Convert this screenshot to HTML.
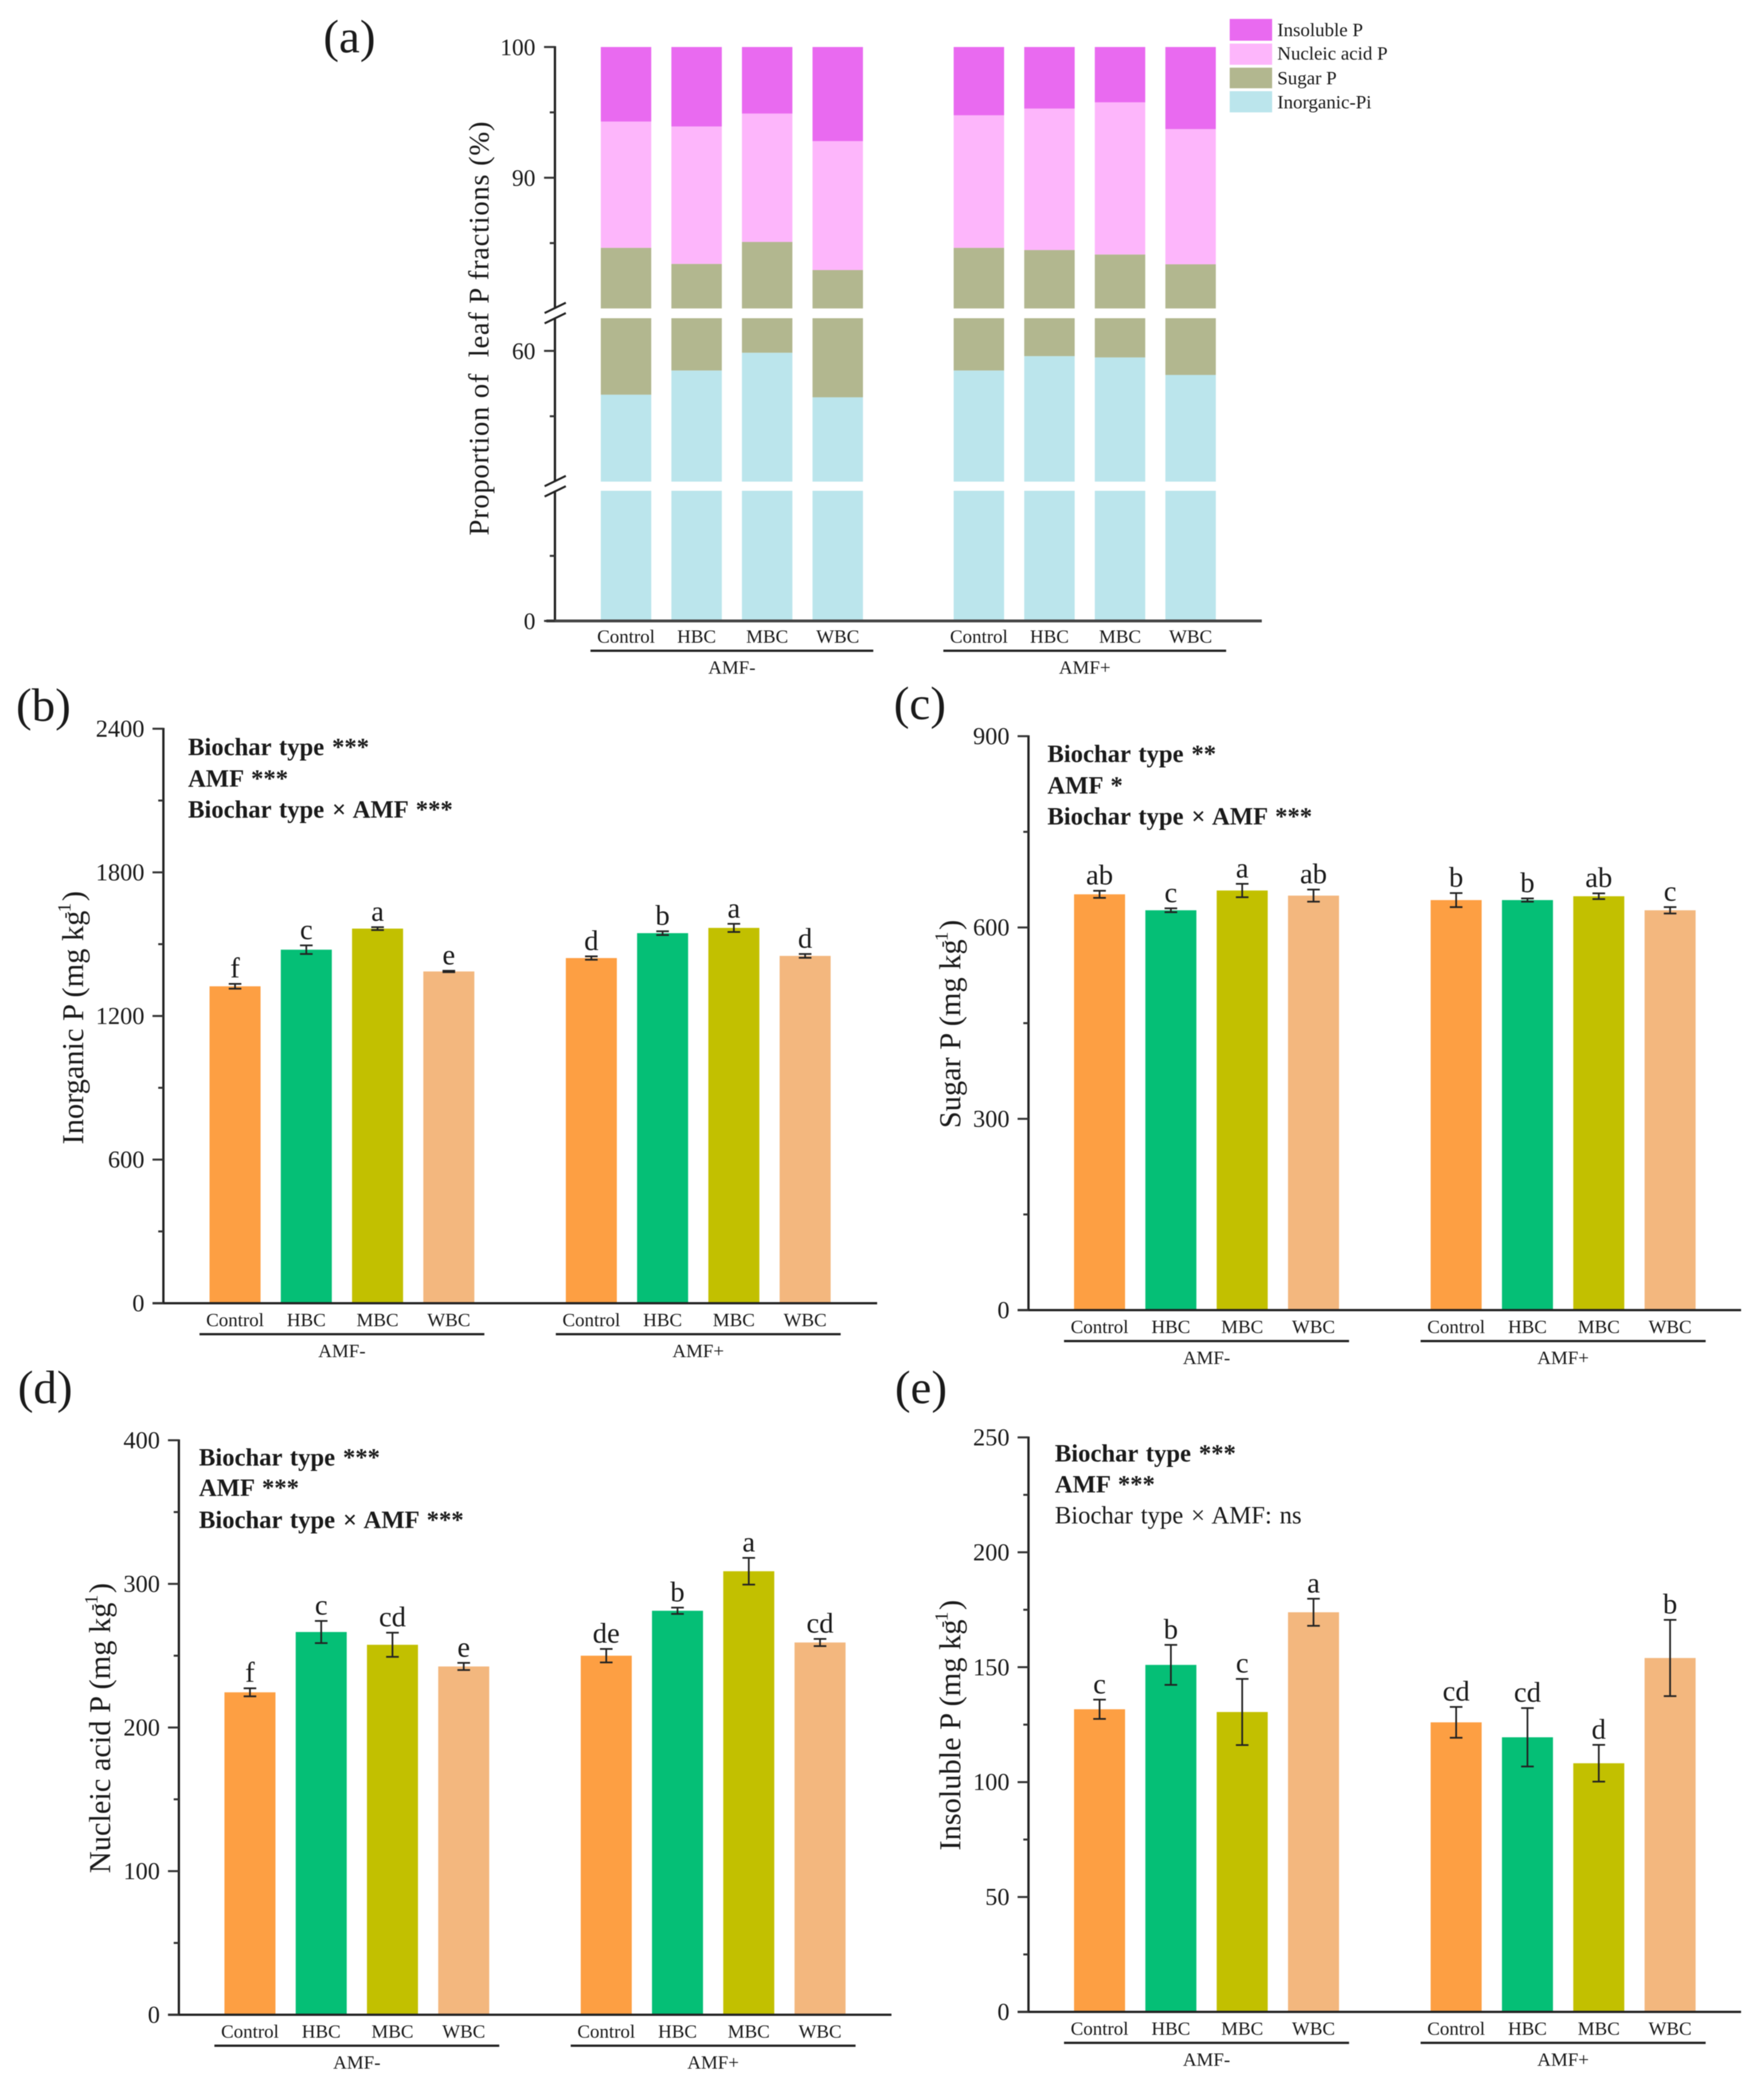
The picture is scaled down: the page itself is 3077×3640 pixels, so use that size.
<!DOCTYPE html>
<html lang="en">
<head>
<meta charset="utf-8">
<title>Leaf P fractions under biochar and AMF treatments</title>
<style>
html,body{margin:0;padding:0;background:#fff;}
svg{display:block;font-family:"Liberation Serif",serif;filter:blur(0.8px);}
text{fill:#1a1a1a;white-space:pre;}
.note{font-size:43px;word-spacing:3px;}
.bold{font-weight:bold;}
.title{font-size:53px;}
.plabel{font-size:82px;}
</style>
</head>
<body>
<svg id="figure" xmlns="http://www.w3.org/2000/svg" width="3077" height="3640" viewBox="0 0 3077 3640">
<rect x="0" y="0" width="3077" height="3640" fill="#fff"/>
<text class="plabel" x="564" y="91">(a)</text>
<text class="plabel" x="28" y="1257">(b)</text>
<text class="plabel" x="1559" y="1254">(c)</text>
<text class="plabel" x="31" y="2447">(d)</text>
<text class="plabel" x="1561" y="2447">(e)</text>

<text font-size="50" textLength="722" transform="translate(852 573) rotate(-90)" text-anchor="middle">Proportion of  leaf P fractions (%)</text>
<text class="title" transform="translate(145 1775) rotate(-90)" text-anchor="middle">Inorganic P (mg kg<tspan dx="-14" dy="-22" font-size="33">-1</tspan><tspan dx="3" dy="22">)</tspan></text>
<text class="title" transform="translate(1675 1786) rotate(-90)" text-anchor="middle">Sugar P (mg kg<tspan dx="-14" dy="-22" font-size="33">-1</tspan><tspan dx="3" dy="22">)</tspan></text>
<text class="title" transform="translate(192 3014) rotate(-90)" text-anchor="middle">Nucleic acid P (mg kg<tspan dx="-14" dy="-22" font-size="33">-1</tspan><tspan dx="3" dy="22">)</tspan></text>
<text class="title" transform="translate(1675 3009) rotate(-90)" text-anchor="middle">Insoluble P (mg kg<tspan dx="-14" dy="-22" font-size="33">-1</tspan><tspan dx="3" dy="22">)</tspan></text>

<g>
<text class="note bold" x="328" y="1317">Biochar type ***</text>
<text class="note bold" x="328" y="1372">AMF ***</text>
<text class="note bold" x="328" y="1426">Biochar type × AMF ***</text>
</g>
<g>
<text class="note bold" x="1827" y="1329">Biochar type **</text>
<text class="note bold" x="1827" y="1384">AMF *</text>
<text class="note bold" x="1827" y="1438">Biochar type × AMF ***</text>
</g>
<g>
<text class="note bold" x="347" y="2556">Biochar type ***</text>
<text class="note bold" x="347" y="2609">AMF ***</text>
<text class="note bold" x="347" y="2665">Biochar type × AMF ***</text>
</g>
<g>
<text class="note bold" x="1840" y="2549">Biochar type ***</text>
<text class="note bold" x="1840" y="2603">AMF ***</text>
<text class="note" x="1840" y="2657">Biochar type × AMF: ns</text>
</g>

<g>
<rect x="2145" y="33" width="74" height="38" fill="#E96AF0"/>
<rect x="2145" y="76" width="74" height="37" fill="#FDB6FB"/>
<rect x="2145" y="118" width="74" height="36" fill="#B2B78F"/>
<rect x="2145" y="159" width="74" height="37" fill="#BBE5EC"/>
<text font-size="33" x="2228" y="63">Insoluble P</text>
<text font-size="33" x="2228" y="104">Nucleic acid P</text>
<text font-size="33" x="2228" y="147">Sugar P</text>
<text font-size="33" x="2228" y="189">Inorganic-Pi</text>
</g>
</svg>

<script>
// ---------- shared categories ----------
const categories = ['Control','HBC','MBC','WBC','Control','HBC','MBC','WBC'];
const groupLabels = ['AMF-','AMF+'];

// ---------- panel (a) stacked percentages ----------
const stackInorganic = [56.65,58.5,59.86,56.45,58.5,59.6,59.5,58.16];
const stackSugar = [27.99,24.91,25.23,26.49,26.14,24.87,24.63,25.22];
const stackNucleic = [9.66,10.51,9.82,9.86,10.14,10.82,11.64,10.34];
const stackInsoluble = [5.7,6.08,5.09,7.2,5.22,4.71,4.23,6.28];
const stackMajorTicks = [0,60,90,100];
const stackMinorTicks = [5,55,85,95];

// ---------- panel (b) inorganic P ----------
const inorganicValues = [1324,1477,1565,1386,1442,1546,1568,1451];
const inorganicErrors = [10,18,6,3,7,8,17,8];
const inorganicLetters = ['f','c','a','e','d','b','a','d'];
const inorganicTicks = [0,600,1200,1800,2400];

// ---------- panel (c) sugar P ----------
const sugarValues = [652,627,658,650,643,643,649,627];
const sugarErrors = [5.6,3,10.5,9.5,11,2.5,4.5,5];
const sugarLetters = ['ab','c','a','ab','b','b','ab','c'];
const sugarTicks = [0,300,600,900];

// ---------- panel (d) nucleic acid P ----------
const nucleicValues = [224.5,266.5,257.6,242.5,250,281.3,308.8,259.2];
const nucleicErrors = [2.8,7.7,8.4,2.5,4.7,2.2,9.3,2.5];
const nucleicLetters = ['f','c','cd','e','de','b','a','cd'];
const nucleicTicks = [0,100,200,300,400];

// ---------- panel (e) insoluble P ----------
const insolubleValues = [131.7,151,130.5,173.9,126,119.5,108.2,154];
const insolubleErrors = [4.2,8.7,14.4,5.9,6.7,12.7,8,16.6];
const insolubleLetters = ['c','b','c','a','cd','cd','d','b'];
const insolubleTicks = [0,50,100,150,200,250];

const barColors = ['#FD9F43','#05BF76','#C2C000','#F3B77E'];
const INK = '#222';
const NS = 'http://www.w3.org/2000/svg';
const figure = document.getElementById('figure');

function mk(tag, attrs, parent, txt){
  const el = document.createElementNS(NS, tag);
  for (const k in attrs) el.setAttribute(k, attrs[k]);
  if (txt !== undefined) el.textContent = txt;
  parent.appendChild(el);
  return el;
}
// slots 0-3 = AMF-, slot 4 empty, slots 5-8 = AMF+
function slot(i){ return i < 4 ? i : i + 1; }

function drawCategoryAxis(g, xOf, axisY, fontSize){
  categories.forEach(function(c, i){
    const t = mk('text', {x: xOf(i), y: axisY + 40, 'text-anchor': 'middle', 'font-size': fontSize}, g, c);
    
    
  });
  groupLabels.forEach(function(label, k){
    const a = xOf(k * 4) - 62, b = xOf(k * 4 + 3) + 62;
    const line = mk('line', {x1: a, x2: b, y1: axisY + 54, y2: axisY + 54, stroke: INK, 'stroke-width': 4}, g);
    
    
    const t = mk('text', {x: (a + b) / 2, y: axisY + 94, 'text-anchor': 'middle', 'font-size': fontSize}, g, label);
    
    
  });
}

function drawBarPanel(id, layout, values, errors, letters, ticks){
  const g = mk('g', {}, figure);
  
  
  const maxV = ticks[ticks.length - 1];
  const yOf = function(v){ return layout.bottom - v / maxV * (layout.bottom - layout.top); };
  const xOf = function(i){ return layout.x0 + layout.pitch * slot(i); };

  values.forEach(function(v, i){
    const bar = mk('rect', {x: xOf(i) - 44.5, y: yOf(v), width: 89, height: yOf(0) - yOf(v), fill: barColors[i % 4]}, g);
    
    
    const hi = yOf(v + errors[i]), lo = yOf(v - errors[i]);
    const err = mk('path', {d: 'M' + (xOf(i) - 11) + ' ' + hi + 'H' + (xOf(i) + 11) + 'M' + xOf(i) + ' ' + hi + 'V' + lo + 'M' + (xOf(i) - 11) + ' ' + lo + 'H' + (xOf(i) + 11), stroke: INK, 'stroke-width': 3, fill: 'none'}, g);
    
    
    const t = mk('text', {x: xOf(i), y: hi - 11, 'text-anchor': 'middle', 'font-size': 50}, g, letters[i]);
    
    
  });

  const yAxis = mk('line', {x1: layout.axisX, x2: layout.axisX, y1: layout.top - 1.5, y2: layout.bottom, stroke: INK, 'stroke-width': 4}, g);
  
  
  const xAxis = mk('line', {x1: layout.axisX - 19, x2: layout.right, y1: layout.bottom, y2: layout.bottom, stroke: INK, 'stroke-width': 4}, g);
  
  

  ticks.forEach(function(v, i){
    const tick = mk('line', {x1: layout.axisX - 19, x2: layout.axisX, y1: yOf(v), y2: yOf(v), stroke: '#333', 'stroke-width': 3.5}, g);
    
    
    const t = mk('text', {x: layout.axisX - 33, y: yOf(v) + 14, 'text-anchor': 'end', 'font-size': 42.5}, g, String(v));
    
    
    if (i < ticks.length - 1){
      const mid = (v + ticks[i + 1]) / 2;
      const minor = mk('line', {x1: layout.axisX - 9, x2: layout.axisX, y1: yOf(mid), y2: yOf(mid), stroke: '#333', 'stroke-width': 3.5}, g);
      
      
    }
  });
  drawCategoryAxis(g, xOf, layout.bottom, 33);
}

// ---------- stacked panel with broken axis ----------
const stackBands = [
  {lo: 0, hi: 10, yLo: 1083, yHi: 856},
  {lo: 50, hi: 62.5, yLo: 840, yHi: 555},
  {lo: 80, hi: 100, yLo: 538, yHi: 82}
];
function stackY(v, band){
  return band.yLo - (v - band.lo) / (band.hi - band.lo) * (band.yLo - band.yHi);
}
function stackYAny(v){
  for (const b of stackBands) if (v >= b.lo && v <= b.hi) return stackY(v, b);
  return null;
}
function drawStackPanel(){
  const g = mk('g', {}, figure);
  
  
  const axisX = 968;
  const xOf = function(i){ return 1092 + 123.1 * slot(i); };
  const series = [
    {name: 'inorganic', values: stackInorganic, color: '#BBE5EC'},
    {name: 'sugar', values: stackSugar, color: '#B2B78F'},
    {name: 'nucleic-acid', values: stackNucleic, color: '#FDB6FB'},
    {name: 'insoluble', values: stackInsoluble, color: '#E96AF0'}
  ];
  categories.forEach(function(c, i){
    let base = 0;
    series.forEach(function(s){
      const top = base + s.values[i];
      stackBands.forEach(function(b){
        const a = Math.max(base, b.lo), z = Math.min(top, b.hi);
        if (z > a){
          const seg = mk('rect', {x: xOf(i) - 44, y: stackY(z, b), width: 88, height: stackY(a, b) - stackY(z, b), fill: s.color}, g);
          
          
        }
      });
      base = top;
    });
  });
  stackBands.forEach(function(b){
    const seg = mk('line', {x1: axisX, x2: axisX, y1: b.yHi - (b.hi === 100 ? 1.5 : 0), y2: b.yLo, stroke: INK, 'stroke-width': 4}, g);
    
    
  });
  [546, 848].forEach(function(y){
    [-9, 9].forEach(function(d){
      const s = mk('line', {x1: axisX - 18, x2: axisX + 19, y1: y + d + 9, y2: y + d - 9, stroke: INK, 'stroke-width': 3.5}, g);
      
      
    });
  });
  const xAxis = mk('line', {x1: 953, x2: 2201, y1: 1083, y2: 1083, stroke: '#444', 'stroke-width': 5}, g);
  
  
  stackMajorTicks.forEach(function(v){
    const y = stackYAny(v);
    const tick = mk('line', {x1: axisX - 19, x2: axisX, y1: y, y2: y, stroke: '#333', 'stroke-width': 3.5}, g);
    
    
    const t = mk('text', {x: axisX - 34, y: y + 14, 'text-anchor': 'end', 'font-size': 41}, g, String(v));
    
    
  });
  stackMinorTicks.forEach(function(v){
    const y = stackYAny(v);
    const minor = mk('line', {x1: axisX - 9, x2: axisX, y1: y, y2: y, stroke: '#333', 'stroke-width': 3.5}, g);
    
    
  });
  drawCategoryAxis(g, xOf, 1081, 33);
}

drawStackPanel();
drawBarPanel('b', {top: 1271, bottom: 2273, axisX: 285, right: 1530, x0: 410, pitch: 124.3}, inorganicValues, inorganicErrors, inorganicLetters, inorganicTicks);
drawBarPanel('c', {top: 1284, bottom: 2285, axisX: 1794, right: 3037, x0: 1918, pitch: 124.4}, sugarValues, sugarErrors, sugarLetters, sugarTicks);
drawBarPanel('d', {top: 2512, bottom: 3514, axisX: 312, right: 1555, x0: 436, pitch: 124.3}, nucleicValues, nucleicErrors, nucleicLetters, nucleicTicks);
drawBarPanel('e', {top: 2507, bottom: 3509, axisX: 1794, right: 3037, x0: 1918, pitch: 124.4}, insolubleValues, insolubleErrors, insolubleLetters, insolubleTicks);
</script>
</body>
</html>
